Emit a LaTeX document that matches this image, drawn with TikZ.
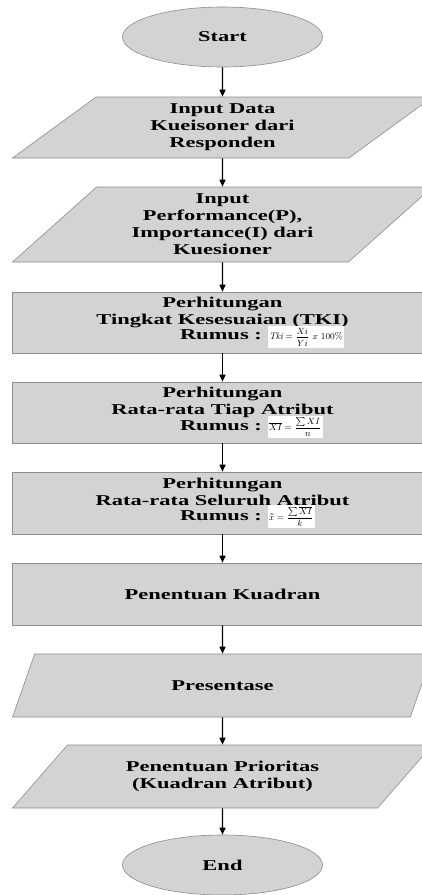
\documentclass[tikz,border=0pt]{standalone}
\usepackage{amsmath}
\usepackage{fontspec}
\usetikzlibrary{shapes.geometric,arrows.meta}
\newfontfamily\flowfont{Liberation Serif}[FakeStretch=1.5]
\definecolor{boxfill}{HTML}{D3D3D3}
\definecolor{boxline}{HTML}{8C8C8C}
\newcommand\rumusline[1]{\makebox[0pt][l]{\hspace*{-42.5pt}Rumus :\ #1}}
\newcommand\fml[1]{{\setlength{\fboxsep}{1.5pt}\colorbox{white}{\normalfont\fontsize{9.5}{11}\selectfont$#1$}}}
\tikzset{
  base/.style={draw=boxline, fill=boxfill, line width=0.6pt,
    font=\flowfont\bfseries\fontsize{15}{17}\selectfont, align=center, inner sep=2pt},
  term/.style={base, ellipse, minimum width=200pt, minimum height=60pt},
  proc/.style={base, rectangle, minimum width=420pt, minimum height=#1},
  io/.style={base, trapezium, trapezium stretches body, minimum width=420pt},
  arr/.style={-{Triangle[length=7pt,width=6pt]}, line width=1.3pt, black}
}
\begin{document}
\begin{tikzpicture}[x=1pt,y=-1pt]
\useasboundingbox (0,0) rectangle (422,895);
\clip (0,0) rectangle (422,895);
\node[term] (start) at (222.5,37) {Start};
\node[io, minimum height=61pt, trapezium left angle=31.4, trapezium right angle=148.6] (p1) at (222.5,127.5)
  {Input Data\\Kueisoner dari\\Responden};
\node[io, minimum height=75pt, trapezium left angle=37.7, trapezium right angle=142.3] (p2) at (222.5,224.5)
  {Input\\Performance(P),\\Importance(I) dari\\Kuesioner};
\node[proc=61pt] (r1) at (222.5,322.5)
  {Perhitungan\\Tingkat Kesesuaian (TKI)\\[-2pt]\rumusline{\fml{\mathit{Tki}=\dfrac{Xi}{Yi}\ x\ 100\%}}};
\node[proc=61pt] (r2) at (222.5,412.5)
  {Perhitungan\\Rata-rata Tiap Atribut\\[-2pt]\rumusline{\fml{\overline{XI}=\dfrac{\sum XI}{n}}}};
\node[proc=62pt] (r3) at (222.5,503)
  {Perhitungan\\Rata-rata Seluruh Atribut\\[-2pt]\rumusline{\fml{\bar{\bar{x}}=\dfrac{\sum \overline{XI}}{k}}}};
\node[proc=62pt] (r4) at (222.5,594) {Penentuan Kuadran};
\node[io, minimum height=63pt, trapezium left angle=32.2, trapezium right angle=147.8] (p3) at (222.5,685.5)
  {Presentase};
\node[io, minimum height=63pt, trapezium left angle=32.2, trapezium right angle=147.8] (p4) at (222.5,776.5)
  {Penentuan Prioritas\\(Kuadran Atribut)};
\node[term] (end) at (222.5,865) {End};
\draw[arr] (start) -- (p1);
\draw[arr] (p1) -- (p2);
\draw[arr] (p2) -- (r1);
\draw[arr] (r1) -- (r2);
\draw[arr] (r2) -- (r3);
\draw[arr] (r3) -- (r4);
\draw[arr] (r4) -- (p3);
\draw[arr] (p3) -- (p4);
\draw[arr] (p4) -- (end);
\end{tikzpicture}
\end{document}
